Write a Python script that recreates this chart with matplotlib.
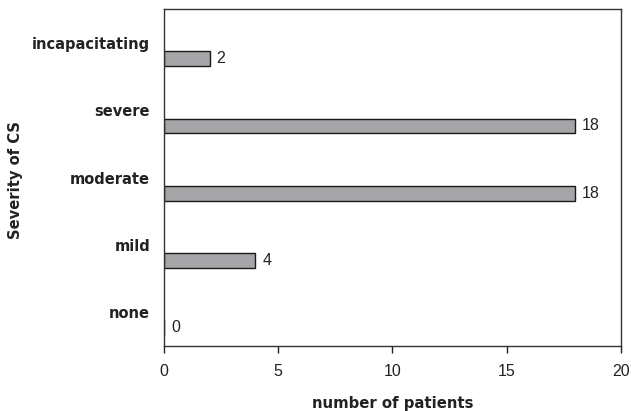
import matplotlib
matplotlib.use("Agg")
import matplotlib.pyplot as plt
from matplotlib.transforms import offset_copy

categories = ["none", "mild", "moderate", "severe", "incapacitating"]
patients = [0, 4, 18, 18, 2]
xticks = [0, 5, 10, 15, 20]

fig = plt.figure(figsize=(6.31, 4.11), dpi=100)
ax = fig.add_axes([0.26, 0.158, 0.724, 0.819])

ypos = list(range(len(categories)))
bar_y = [y - 0.23 for y in ypos]
ax.barh(bar_y, patients, height=0.22, color="#a5a5a8", edgecolor="#1a1a1a", linewidth=1.0)

trans = offset_copy(ax.transData, fig=fig, x=7, y=0, units="dots")
for by, v in zip(bar_y, patients):
    ax.text(v, by, str(v), transform=trans, ha="left", va="center",
            fontsize=11.5, family="Liberation Sans", color="#222222")

ax.set_xlim(0, 20)
ax.set_ylim(-0.5, 4.5)
ax.set_xticks(xticks)
ax.set_xticklabels([str(t) for t in xticks], family="Liberation Sans", fontsize=11.5, color="#222222")
ax.set_yticks(ypos)
ax.set_yticklabels(categories, fontsize=10.5, fontweight="bold", family="DejaVu Sans", color="#222222")
ax.tick_params(axis="y", length=0, pad=10)
ax.tick_params(axis="x", direction="out", length=5, width=1, pad=8, color="#222222")

for s in ax.spines.values():
    s.set_color("#333333")
    s.set_linewidth(1.0)

fig.text(392.5 / 631, 1 - 403 / 411, "number of patients", fontsize=10.7,
         fontweight="bold", ha="center", va="center", color="#222222")
fig.text(16 / 631, 1 - 180 / 411, "Severity of CS", fontsize=10.6,
         fontweight="bold", ha="center", va="center", rotation=90, color="#222222")

fig.savefig("out.png", dpi=100)
